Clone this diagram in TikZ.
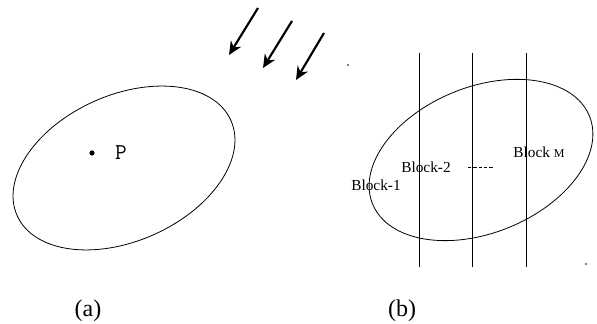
\documentclass[tikz,border=0pt]{standalone}
\usepackage{fontspec}
\setmainfont{Liberation Serif}
\usetikzlibrary{arrows.meta}

\begin{document}
\begin{tikzpicture}[x=0.75pt,y=0.75pt,
  outline/.style={line width=0.6pt},
  blockline/.style={line width=0.6pt},
  rayarrow/.style={line width=1.6pt,-{Stealth[length=10pt,width=9pt]}},
  blocklabel/.style={inner sep=0pt,font=\fontsize{11.5}{13}\selectfont},
  caption/.style={inner sep=0pt,font=\fontsize{18}{20}\selectfont}]
  \useasboundingbox (0,0) rectangle (597,324);

  % (a) domain with point P
  \draw[outline,rotate around={24:(124,156)}] (124,156) ellipse[x radius=117,y radius=73];
  \fill (92,171) circle[radius=2.6];
  \node[inner sep=0pt,font=\ttfamily\fontsize{17}{19}\selectfont] (p) at (121,171) {P};

  % incoming rays
  \coordinate (r1s) at (258,316); \coordinate (r1e) at (229,269);
  \coordinate (r2s) at (292,303); \coordinate (r2e) at (263,256);
  \coordinate (r3s) at (324,291); \coordinate (r3e) at (296,244);
  \draw[rayarrow] (r1s) -- (r1e);
  \draw[rayarrow] (r2s) -- (r2e);
  \draw[rayarrow] (r3s) -- (r3e);

  % (b) domain cut into blocks
  \draw[outline,rotate around={22:(481,164)}] (481,164) ellipse[x radius=117,y radius=73];
  \foreach \x/\n in {419/1,472/2,526/3} {
    \coordinate (cut\n top) at (\x,271);
    \coordinate (cut\n bot) at (\x,57);
    \draw[blockline] (cut\n top) -- (cut\n bot);
  }
  \node[blocklabel] (block1) at (376,139) {Block-1};
  \node[blocklabel] (block2) at (426,157) {Block-2};
  \node[blocklabel] (blockm) at (539,172) {Block {\fontsize{9}{10}\selectfont M}};
  \coordinate (dotsl) at (468,157);
  \coordinate (dotsr) at (493,157);
  \draw[line width=0.5pt,dash pattern=on 2.5pt off 1.5pt] (dotsl) -- (dotsr);

  % stray marks
  \fill (348,259) circle[radius=0.8];
  \fill (586,60) circle[radius=0.8];

  \node[caption] (capa) at (88,13) {(a)};
  \node[caption] (capb) at (402,13) {(b)};
\end{tikzpicture}
\end{document}
